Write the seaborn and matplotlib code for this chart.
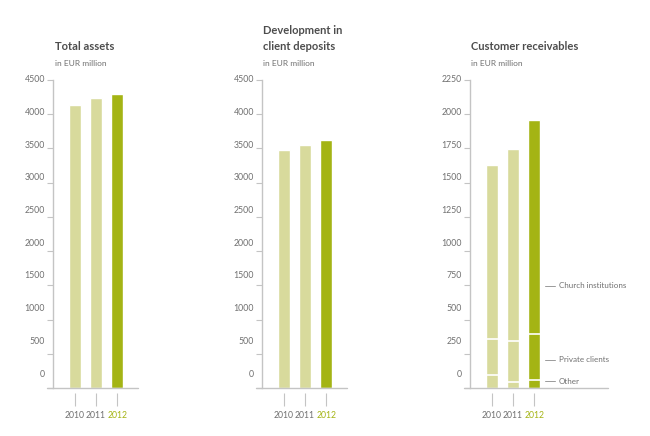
import matplotlib
matplotlib.use("Agg")
import matplotlib.pyplot as plt
import matplotlib.transforms as mtransforms
import seaborn as sns

# ---------------- data ----------------
years = ["2010", "2011", "2012"]
total_assets = [4130, 4230, 4300]
client_deposits = [3475, 3545, 3625]
recv_other = [92, 46, 58]
recv_private = [268, 297, 338]
recv_church = [1270, 1402, 1559]
assets_ticks = [0, 500, 1000, 1500, 2000, 2500, 3000, 3500, 4000, 4500]
recv_ticks = [0, 250, 500, 750, 1000, 1250, 1500, 1750, 2000, 2250]
segment_labels = ["Church institutions", "Private clients", "Other"]
segment_label_y = [746, 205, 51]

# ---------------- style ----------------
sns.set_theme(style="white")
plt.rcParams["font.family"] = ["Lato", "DejaVu Sans"]

LIGHT = "#d8da9c"
DARK = "#a4b414"
AXIS = "#c4c4c4"
TXT = "#707070"
TITLE = "#4d4d4d"
palette = {"2010": LIGHT, "2011": LIGHT, "2012": DARK}

W, H = 650, 436
fig = plt.figure(figsize=(6.5, 4.36), dpi=100)


def px_axes(x0, x1, y_top=80, y_bot=388):
    return fig.add_axes([x0 / W, (H - y_bot) / H, (x1 - x0) / W, (y_bot - y_top) / H])


def style_axis(ax, ticks, xmax):
    ax.set_xlim(-1.3, xmax)
    ax.set_ylim(0, ticks[-1])
    for s in ["top", "right"]:
        ax.spines[s].set_visible(False)
    ax.spines["left"].set_position(("data", -1.0))
    ax.spines["left"].set_color(AXIS)
    ax.spines["left"].set_linewidth(1.0)
    ax.spines["bottom"].set_position(("outward", 3.6))
    ax.spines["bottom"].set_visible(False)
    ax.axhline(0, color=AXIS, lw=1.0, clip_on=False, zorder=5)
    ax.set_yticks(ticks)
    ax.set_yticklabels([str(t) for t in ticks])
    ax.tick_params(axis="y", direction="out", length=4.5, width=0.8, color=AXIS,
                   labelsize=6.3, labelcolor=TXT, pad=1.5, left=True)
    ax.tick_params(axis="x", direction="out", length=9.5, width=0.8, color=AXIS,
                   labelsize=6.2, labelcolor=TXT, pad=3.4, bottom=True)
    # labels sit slightly above their tick marks (as in the original layout)
    for lab, t in zip(ax.get_yticklabels(), ticks):
        dy = (15 - 14 * t / ticks[-1]) / 100.0
        lab.set_transform(lab.get_transform() +
                          mtransforms.ScaledTranslation(0, dy, fig.dpi_scale_trans))
    for lab in ax.get_xticklabels():
        if lab.get_text() == "2012":
            lab.set_color(DARK)
    ax.set_xlabel("")
    ax.set_ylabel("")


# ---- panel 1: total assets ----
ax1 = px_axes(47, 138)
sns.barplot(x=years, y=total_assets, hue=years, palette=palette, width=0.56,
            legend=False, ax=ax1, saturation=1)
style_axis(ax1, assets_ticks, 2.97)

# ---- panel 2: client deposits ----
ax2 = px_axes(256, 347)
sns.barplot(x=years, y=client_deposits, hue=years, palette=palette, width=0.56,
            legend=False, ax=ax2, saturation=1)
style_axis(ax2, assets_ticks, 2.97)

# ---- panel 3: customer receivables (stacked) ----
ax3 = px_axes(464, 608)
cum1 = list(recv_other)
cum2 = [o + p for o, p in zip(recv_other, recv_private)]
totals = [c2 + c for c2, c in zip(cum2, recv_church)]
sns.barplot(x=years, y=totals, hue=years, palette=palette, width=0.56,
            legend=False, ax=ax3, saturation=1)
patches = sorted(ax3.patches, key=lambda p: p.get_x())
for p, a, b in zip(patches, cum1, cum2):
    x0, w = p.get_x(), p.get_width()
    ax3.hlines([a, b], x0, x0 + w, colors="white", lw=1.2, zorder=4)
style_axis(ax3, recv_ticks, 5.46)
for lab, y in zip(segment_labels, segment_label_y):
    ax3.plot([2.51, 2.97], [y, y], color="#9a9a9a", lw=0.7, clip_on=False)
    ax3.text(3.16, y, lab, fontsize=5.8, color=TXT, va="center", ha="left")

# ---------------- titles ----------------
def ftext(x, y, s, **kw):
    fig.text(x / W, (H - y) / H, s, va="baseline", ha="left", **kw)

tkw = dict(fontsize=8, fontweight="bold", color=TITLE)
skw = dict(fontsize=6, color=TXT)
ftext(55, 50, "Total assets", **tkw)
ftext(55, 66, "in EUR million", **skw)
ftext(263, 34, "Development in", **tkw)
ftext(263, 50, "client deposits", **tkw)
ftext(263, 66, "in EUR million", **skw)
ftext(471, 50, "Customer receivables", **tkw)
ftext(471, 66, "in EUR million", **skw)

fig.savefig("out.png", dpi=100, facecolor="white")
